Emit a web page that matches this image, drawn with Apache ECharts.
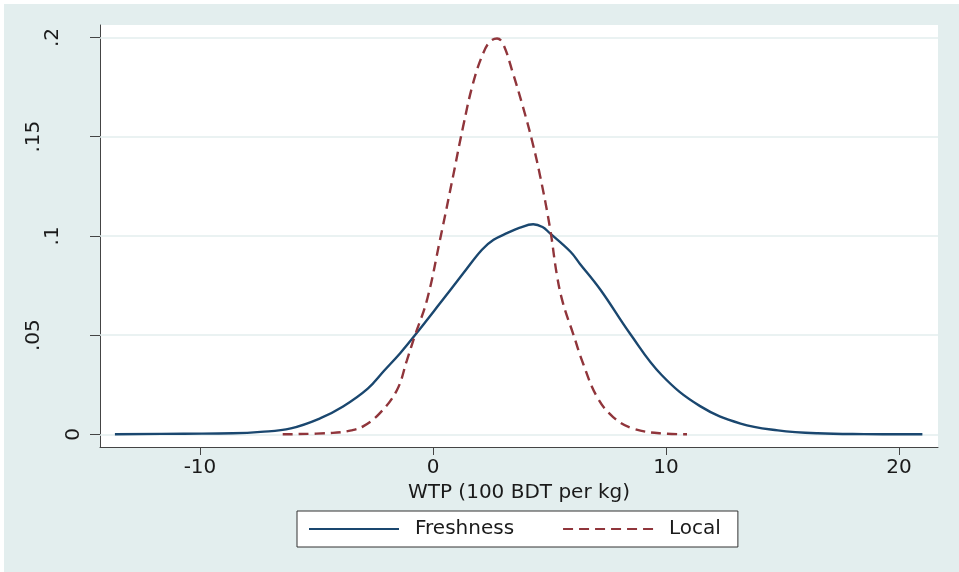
<!DOCTYPE html>
<html><head><meta charset="utf-8">
<script src="https://cdn.jsdelivr.net/npm/echarts@6/dist/echarts.min.js"></script>
<style>html,body{margin:0;padding:0;background:#fff}#c{position:absolute;left:4px;top:4px;width:955px;height:568px}</style>
</head><body><div id="c"></div>
<script>
// ---- data ----
const seriesNames = ['Freshness', 'Local'];
const xTitle = 'WTP (100 BDT per kg)';
const freshX = [-13.65, -10.7, -8.6, -7.4, -6.1, -4.85, -3.86, -2.8, -2.1, -1.4, -0.77, 0.3, 1.29, 2.1, 2.6, 3.2, 3.7, 4.3, 4.7, 5.0, 5.9, 6.3, 7.2, 8.45, 9.8, 11.46, 13.2, 14.8, 16.5, 18.5, 21.0];
const freshY = [0, 0.0003, 0.0005, 0.0012, 0.003, 0.008, 0.014, 0.023, 0.032, 0.041, 0.05, 0.066, 0.081, 0.093, 0.098, 0.1015, 0.104, 0.1059, 0.1045, 0.1015, 0.092, 0.086, 0.0726, 0.0508, 0.030, 0.0142, 0.0054, 0.002, 0.0005, 0.0001, 0];
const localX = [-6.45, -4.3, -3.5, -3.0, -2.3, -1.55, -1.12, -0.77, -0.26, 0.3, 0.86, 1.29, 1.72, 2.15, 2.45, 2.75, 3.0, 3.43, 3.86, 4.25, 4.6, 5.02, 5.32, 5.58, 6.01, 6.44, 7.04, 7.73, 8.58, 9.87, 10.9];
const localY = [0, 0.0007, 0.002, 0.004, 0.0104, 0.0222, 0.0373, 0.05, 0.0676, 0.098, 0.13, 0.155, 0.177, 0.192, 0.198, 0.1995, 0.197, 0.182, 0.165, 0.148, 0.130, 0.104, 0.080, 0.066, 0.0508, 0.0357, 0.0188, 0.0087, 0.0029, 0.0004, 0];
const yTicks = [0, 0.05, 0.1, 0.15, 0.2];
const yTickLabels = ['0', '.05', '.1', '.15', '.2'];
const xTicks = [-10, 0, 10, 20];
const xTickLabels = ['-10', '0', '10', '20'];

const FONT = 'DejaVu Sans';
const bg = '#E3EEEE';
const chart = echarts.init(document.getElementById('c'));
const yRich = ['a', 'c', 'b', 'c', 'b'];
chart.setOption({
  animation: false,
  backgroundColor: bg,
  textStyle: { fontFamily: FONT },
  grid: { left: 96, top: 21, right: 21, bottom: 125, show: true, backgroundColor: '#fff', borderWidth: 0 },
  xAxis: {
    type: 'value', min: -14.29, max: 21.67,
    name: xTitle, nameLocation: 'middle', nameGap: 33,
    nameTextStyle: { fontSize: 20, color: '#1a1a1a', fontFamily: FONT },
    axisLine: { show: true, onZero: false, lineStyle: { color: '#444', width: 1 } },
    axisTick: { show: true, length: 8, customValues: xTicks, lineStyle: { color: '#444' } },
    axisLabel: { customValues: xTicks, margin: 11, fontSize: 20, color: '#1a1a1a', fontFamily: FONT,
      formatter: v => xTickLabels[xTicks.indexOf(v)] },
    splitLine: { show: false }
  },
  yAxis: {
    type: 'value', min: -0.0064, max: 0.2063,
    axisLine: { show: true, onZero: false, lineStyle: { color: '#444', width: 1 } },
    axisTick: { show: true, length: 10, customValues: yTicks, lineStyle: { color: '#444' } },
    axisLabel: { customValues: yTicks, rotate: 90, margin: 16, fontSize: 20, color: '#1a1a1a', fontFamily: FONT,
      formatter: v => { const i = yTicks.indexOf(v); return '{' + yRich[i] + '|' + yTickLabels[i] + '}'; },
      rich: {
        a: { fontSize: 20, fontFamily: FONT, color: '#1a1a1a', padding: [0, 0, 0, 0] },
        b: { fontSize: 20, fontFamily: FONT, color: '#1a1a1a', padding: [0, 0, 21, 0] },
        c: { fontSize: 20, fontFamily: FONT, color: '#1a1a1a', padding: [0, 0, 40, 0] }
      } },
    splitLine: { show: false }
  },
  legend: {
    data: seriesNames, left: 293, top: 507, orient: 'horizontal',
    itemWidth: 90, itemHeight: 14, itemGap: 48,
    padding: [8, 17, 8, 11],
    backgroundColor: '#fff', borderColor: '#333', borderWidth: 1, borderRadius: 0,
    itemStyle: { opacity: 0 },
    textStyle: { fontSize: 20, color: '#1a1a1a', fontFamily: FONT, padding: [0, 0, 0, 11] }
  },
  series: [
    { name: '_grid', type: 'line', data: [], silent: true, z: 1,
      markLine: { silent: true, z: 1, symbol: ['none', 'none'], label: { show: false },
        lineStyle: { color: bg, width: 1.5, type: 'solid' },
        emphasis: { disabled: true },
        data: yTicks.map(v => ({ yAxis: v })) } },
    { name: seriesNames[0], type: 'line', symbol: 'none', showSymbol: false, smooth: 0.4, z: 10,
      lineStyle: { color: '#1a476f', width: 2.4 }, itemStyle: { color: '#1a476f' },
      data: freshX.map((x, i) => [x, freshY[i]]) },
    { name: seriesNames[1], type: 'line', symbol: 'none', showSymbol: false, smooth: 0.4, z: 10,
      lineStyle: { color: '#90353b', width: 2.4, type: [10, 6] }, itemStyle: { color: '#90353b' },
      data: localX.map((x, i) => [x, localY[i]]) }
  ]
});
</script></body></html>
